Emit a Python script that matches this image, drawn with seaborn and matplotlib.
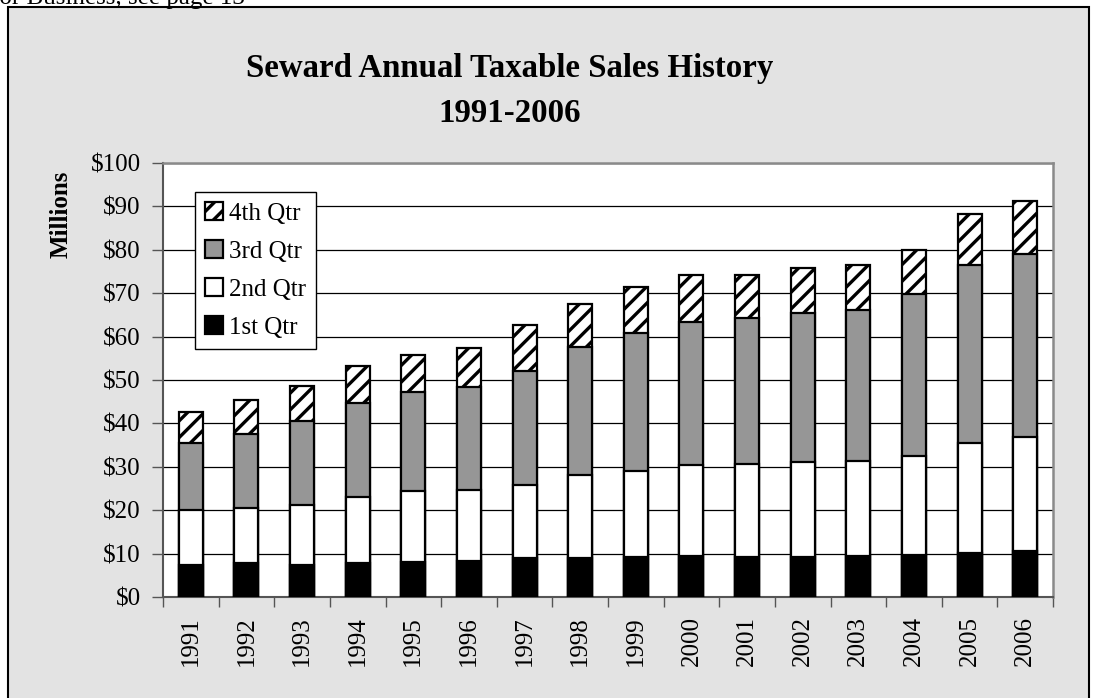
import numpy as np
import pandas as pd
import matplotlib
matplotlib.use("Agg")
import matplotlib.pyplot as plt
from matplotlib.patches import Rectangle
from matplotlib.ticker import FixedLocator, FuncFormatter
import seaborn as sns

years = [str(y) for y in range(1991, 2007)]
q1 = [7.4, 7.8, 7.4, 7.9, 8.1, 8.4, 9.1, 9.0, 9.3, 9.5, 9.2, 9.2, 9.4, 9.6, 10.1, 10.7]
q2 = [12.6, 12.6, 13.8, 15.2, 16.3, 16.2, 16.8, 19.1, 19.8, 21.0, 21.4, 22.0, 22.0, 22.9, 25.4, 26.2]
q3 = [15.4, 17.1, 19.4, 21.5, 22.9, 23.9, 26.1, 29.4, 31.7, 32.9, 33.6, 34.3, 34.7, 37.3, 41.1, 42.2]
q4 = [7.3, 7.9, 8.1, 8.7, 8.5, 8.8, 10.7, 9.9, 10.7, 10.7, 10.1, 10.3, 10.3, 10.2, 11.6, 12.1]
series_names = ["1st Qtr", "2nd Qtr", "3rd Qtr", "4th Qtr"]
yticks = list(range(0, 101, 10))

sns.set_theme(style="white")
plt.rcParams["font.family"] = ["Liberation Serif", "DejaVu Serif"]
plt.rcParams["hatch.linewidth"] = 2.4
plt.rcParams["hatch.color"] = "black"
for k in ["text.color", "axes.labelcolor", "xtick.color", "ytick.color"]:
    plt.rcParams[k] = "black"

df = pd.DataFrame({"year": years, "q1": q1, "q2": q2, "q3": q3, "q4": q4})
stack = np.cumsum(np.array([q1, q2, q3, q4]), axis=0)
df["c1"], df["c2"], df["c3"], df["c4"] = stack

fig = plt.figure(figsize=(10.93, 6.98), dpi=100)
fig.patch.set_facecolor("white")

# outer chart frame
frame = Rectangle((8 / 1093, -0.05), (1089 - 8) / 1093, 1.05 - 7 / 698,
                  transform=fig.transFigure, facecolor="#e3e3e3",
                  edgecolor="black", linewidth=1.5, zorder=-10)
fig.patches.append(frame)

# cropped text above the frame
fig.text(245 / 1093, 1 - 4 / 698, "for Business, see page 13", ha="right",
         va="baseline", fontsize=18, color="black", zorder=-5)

ax = fig.add_axes([163 / 1093, 1 - 597 / 698, (1053 - 163) / 1093, (597 - 163) / 698])
ax.set_zorder(5)
ax.set_facecolor("white")

bw = 0.43
layers = [("c4", "white", "//", series_names[3]),
          ("c3", "#969696", None, series_names[2]),
          ("c2", "white", None, series_names[1]),
          ("c1", "black", None, series_names[0])]
for col, fc, hatch, lab in layers:
    sns.barplot(data=df, x="year", y=col, order=years, color=fc, width=bw,
                edgecolor="black", linewidth=1.6, hatch=hatch, label=lab,
                saturation=1, ax=ax, zorder=3)

ax.set_ylim(0, 100)
ax.set_xlim(-0.5, len(years) - 0.5)
ax.yaxis.set_major_locator(FixedLocator(yticks))
ax.yaxis.set_major_formatter(FuncFormatter(lambda v, p: f"${int(v)}"))
ax.grid(axis="y", color="black", linewidth=0.9, zorder=1)
ax.grid(axis="x", visible=False)
ax.set_axisbelow(True)
ax.set_xlabel("")
ax.set_ylabel("")

ax.tick_params(axis="y", which="major", left=True, length=8, width=1, color="#555555",
               labelsize=18, pad=8, labelcolor="black")
ax.set_xticks(range(len(years)))
ax.set_xticklabels(years, rotation=90, fontsize=18)
ax.tick_params(axis="x", which="major", length=0, pad=14, labelcolor="black")
ax.set_xticks(np.arange(-0.5, len(years), 1.0), minor=True)
ax.tick_params(axis="x", which="minor", bottom=True, length=7, width=1, color="#555555")

for side in ["top", "right"]:
    ax.spines[side].set_visible(True)
    ax.spines[side].set_color("#8a8a8a")
    ax.spines[side].set_linewidth(1.8)
for side in ["left", "bottom"]:
    ax.spines[side].set_visible(True)
    ax.spines[side].set_color("#555555")
    ax.spines[side].set_linewidth(1.5)

leg = ax.legend(loc="upper left", bbox_to_anchor=((195 - 163) / 890, (597 - 192) / 434),
                fontsize=18, frameon=True, fancybox=False, edgecolor="black",
                framealpha=1, handlelength=0.7, handleheight=0.7, handletextpad=0.25,
                labelspacing=0.62, borderpad=0.4, borderaxespad=0)
leg.get_frame().set_linewidth(1.0)

fig.text(510 / 1093, 1 - 77 / 698, "Seward Annual Taxable Sales History", ha="center",
         va="baseline", fontsize=23.7, fontweight="bold", color="black")
fig.text(510 / 1093, 1 - 122 / 698, "1991-2006", ha="center", va="baseline",
         fontsize=23.7, fontweight="bold", color="black")
fig.text(61 / 1093, 1 - 214 / 698, "Millions", rotation=90, ha="center", va="center",
         fontsize=18, fontweight="bold", color="black")

fig.savefig("out.png", dpi=100, facecolor="white")
